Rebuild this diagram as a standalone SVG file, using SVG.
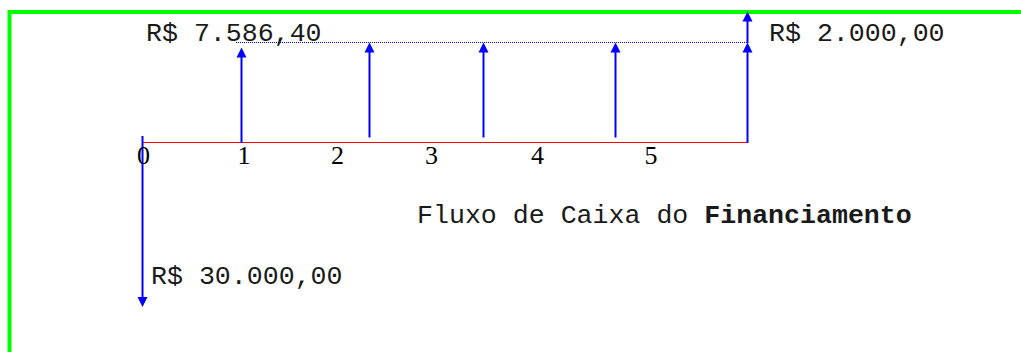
<svg xmlns="http://www.w3.org/2000/svg" width="1021" height="352" viewBox="0 0 1021 352">
<style>
.mono{font-family:"Liberation Mono","Courier New",monospace;font-size:26.6px;fill:#1a1a1a}
.num{font-family:"Liberation Serif","Times New Roman",serif;font-size:26px;fill:#000;text-anchor:middle}
.arr{stroke:#0000ff;stroke-width:2;fill:none}
.head{fill:#0000ff}
</style>
<rect width="1021" height="352" fill="#fff"/>
<path d="M9.5,352 V12 H1021" fill="none" stroke="#00ff00" stroke-width="4"/>
<g id="axis">
<line x1="142.5" y1="142.5" x2="748" y2="142.5" stroke="#ff0000" stroke-width="1.2"/>
<line x1="236" y1="42.5" x2="748" y2="42.5" stroke="#0000ff" stroke-width="1" stroke-dasharray="1,1"/>
</g>
<g id="connectors">
<line class="arr" x1="142.5" y1="136" x2="142.5" y2="298"/>
<polygon class="head" points="137.5,297 147.5,297 142.5,307"/>
<line class="arr" x1="241.5" y1="143" x2="241.5" y2="56"/>
<polygon class="head" points="236.5,57.5 246.5,57.5 241.5,47.5"/>
<line class="arr" x1="369.5" y1="137.5" x2="369.5" y2="51"/>
<polygon class="head" points="364.5,52.5 374.5,52.5 369.5,42.5"/>
<line class="arr" x1="483.5" y1="137.5" x2="483.5" y2="51"/>
<polygon class="head" points="478.5,52.5 488.5,52.5 483.5,42.5"/>
<line class="arr" x1="615.5" y1="137.5" x2="615.5" y2="51"/>
<polygon class="head" points="610.5,52.5 620.5,52.5 615.5,42.5"/>
<line class="arr" x1="747.5" y1="143" x2="747.5" y2="51"/>
<polygon class="head" points="742.5,52.5 752.5,52.5 747.5,42.5"/>
<line class="arr" x1="747.5" y1="43" x2="747.5" y2="20"/>
<polygon class="head" points="742.5,21.5 752.5,21.5 747.5,11.5"/>
</g>
<g id="labels">
<text class="num" x="143.5" y="163.5">0</text>
<text class="num" x="244" y="163.5">1</text>
<text class="num" x="337.5" y="163.5">2</text>
<text class="num" x="431.5" y="163.5">3</text>
<text class="num" x="537.5" y="163.5">4</text>
<text class="num" x="651" y="163.5">5</text>
<text class="mono" x="146" y="40.5">R$ 7.586,40</text>
<text class="mono" x="769" y="40.5">R$ 2.000,00</text>
<text class="mono" x="151" y="283.5">R$ 30.000,00</text>
<text class="mono" x="417" y="223">Fluxo de Caixa do <tspan font-weight="bold">Financiamento</tspan></text>
</g>
</svg>
